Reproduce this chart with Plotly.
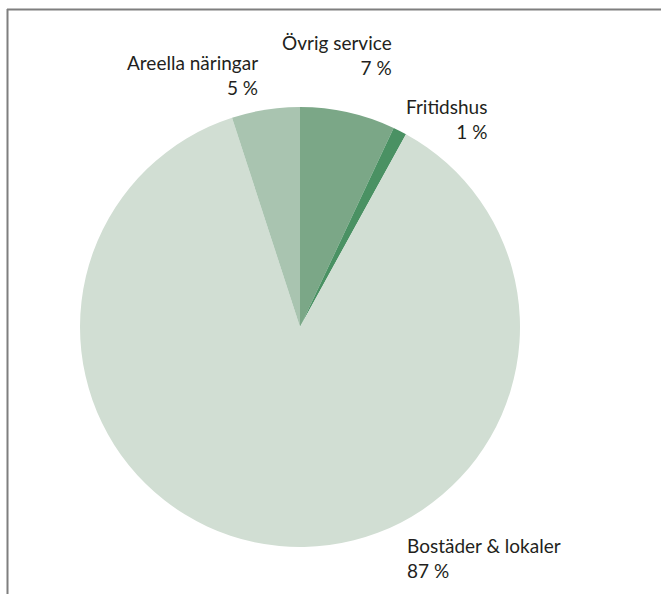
import plotly.graph_objects as go

labels = ["Övrig service", "Fritidshus", "Bostäder & lokaler", "Areella näringar"]
values = [7, 1, 87, 5]
colors = ["#7ba787", "#4a9163", "#d1ded3", "#a9c4b0"]

W, H = 661, 594

def px(x):
    return x / W

def py(y):
    return 1 - y / H

fig = go.Figure(go.Pie(
    labels=labels,
    values=values,
    sort=False,
    direction="clockwise",
    rotation=0,
    marker=dict(colors=colors, line=dict(width=0)),
    textinfo="none",
    hoverinfo="label+percent",
    domain=dict(x=[px(80), px(520)], y=[py(547), py(107)]),
    showlegend=False,
))

# label placement (pixel anchors) per slice
anchors = [
    (394, 55, "right"),
    (489, 119, "right"),
    (405, 558, "left"),
    (260, 75, "right"),
]
annotations = []
for lab, val, (ax, ay, al) in zip(labels, values, anchors):
    annotations.append(dict(
        x=px(ax), y=py(ay), xref="paper", yref="paper",
        text=f"{lab}<br>{val} %", showarrow=False,
        xanchor=al, yanchor="middle", align=al,
        font=dict(family="Lato", size=19, color="#231f20"),
    ))

shapes = [
    dict(type="line", xref="paper", yref="paper", x0=px(7), x1=1.0, y0=py(9.5), y1=py(9.5),
         line=dict(color="#7f7f7f", width=2)),
    dict(type="line", xref="paper", yref="paper", x0=px(7.5), x1=px(7.5), y0=py(9), y1=0.0,
         line=dict(color="#7f7f7f", width=2)),
]

fig.update_layout(
    width=W, height=H,
    margin=dict(l=0, r=0, t=0, b=0),
    paper_bgcolor="white",
    plot_bgcolor="white",
    annotations=annotations,
    shapes=shapes,
)

fig.write_html(
    "out.html",
    config={"displayModeBar": False},
    post_script="document.body.style.margin='0';document.body.style.overflow='hidden';",
)
